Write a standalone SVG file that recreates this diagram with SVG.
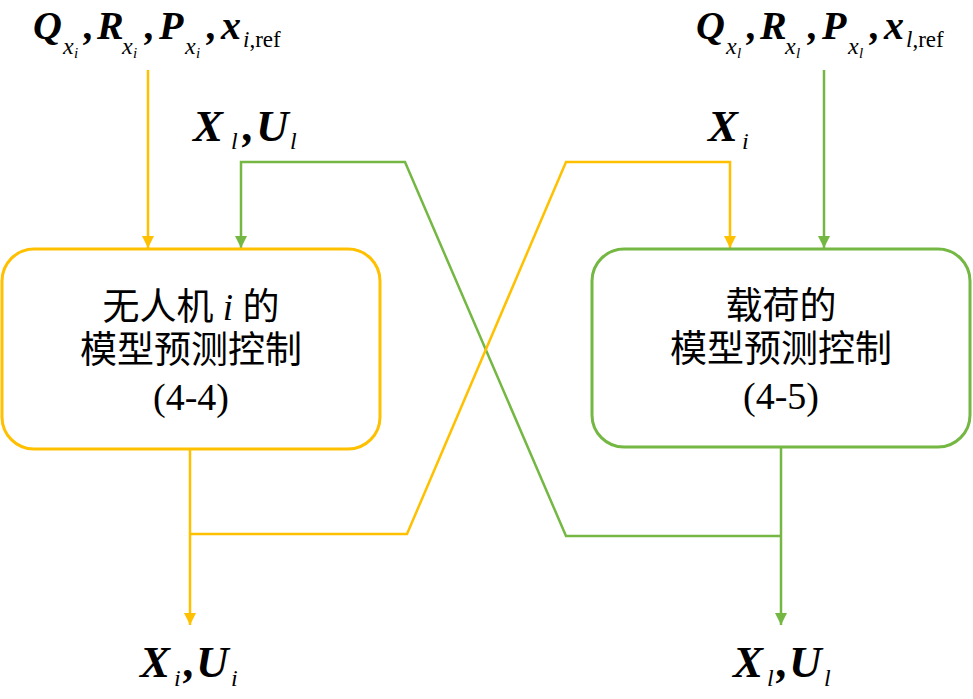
<svg xmlns="http://www.w3.org/2000/svg" width="973" height="699" viewBox="0 0 973 699">
<style>
.m{font-family:"Liberation Serif","Times New Roman",serif;font-weight:bold;font-style:italic;fill:#000}
.s{font-family:"Liberation Serif","Times New Roman",serif;font-weight:normal;font-style:italic}
.u{font-style:normal}
.cn{font-family:"Liberation Serif","Noto Sans CJK SC",serif;font-size:37px;fill:#000;text-anchor:middle}
.num{font-family:"Liberation Serif","Times New Roman",serif;font-size:38px;fill:#000;text-anchor:middle}
.y{stroke:#FFC000;stroke-width:2.5;fill:none}
.g{stroke:#74B843;stroke-width:2.5;fill:none}
</style>
<defs>
<marker id="ay" viewBox="0 0 12 12" markerWidth="12" markerHeight="12" refX="12" refY="6" orient="auto" markerUnits="userSpaceOnUse"><path d="M0,0L12,6L0,12Z" fill="#FFC000"/></marker>
<marker id="ag" viewBox="0 0 12 12" markerWidth="12" markerHeight="12" refX="12" refY="6" orient="auto" markerUnits="userSpaceOnUse"><path d="M0,0L12,6L0,12Z" fill="#74B843"/></marker>
</defs>
<g id="connectors">
<path class="y" d="M148,70V248" marker-end="url(#ay)"/>
<path class="g" d="M824,70V248" marker-end="url(#ag)"/>
<path class="g" d="M781,536H566L405,162H241V248" marker-end="url(#ag)"/>
<path class="y" d="M190,534H407L566,162H730V248" marker-end="url(#ay)"/>
<path class="y" d="M190,449V625" marker-end="url(#ay)"/>
<path class="g" d="M781,447V625" marker-end="url(#ag)"/>
</g>
<g id="node-uav">
<rect x="2" y="249" width="378" height="200" rx="32" ry="32" fill="#fff" stroke="#FFC000" stroke-width="3"/>
<text class="cn" x="191" y="320">无人机 <tspan font-family="Liberation Serif" font-style="italic">i</tspan> 的</text>
<text class="cn" x="191" y="363">模型预测控制</text>
<text class="num" x="191" y="410">(4-4)</text>
</g>
<g id="node-load">
<rect x="592" y="249" width="378" height="198" rx="32" ry="32" fill="#fff" stroke="#74B843" stroke-width="3"/>
<text class="cn" x="781" y="319">载荷的</text>
<text class="cn" x="781" y="362">模型预测控制</text>
<text class="num" x="781" y="409">(4-5)</text>
</g>
<g id="label-top-left">
<text class="m" font-size="40"><tspan x="33" y="39">Q</tspan><tspan class="s" font-size="24" x="63" y="54">x</tspan><tspan class="s" font-size="15" x="74" y="58">i</tspan><tspan x="84" y="39">,</tspan><tspan x="97" y="39">R</tspan><tspan class="s" font-size="24" x="122" y="54">x</tspan><tspan class="s" font-size="15" x="133" y="58">i</tspan><tspan x="145" y="39">,</tspan><tspan x="159" y="39">P</tspan><tspan class="s" font-size="24" x="185" y="54">x</tspan><tspan class="s" font-size="15" x="196" y="58">i</tspan><tspan x="207" y="39">,</tspan><tspan x="221" y="39">x</tspan><tspan class="s" font-size="23" x="243" y="47">i<tspan class="u">,ref</tspan></tspan></text>
</g>
<g id="label-top-right">
<text class="m" font-size="40"><tspan x="696" y="39">Q</tspan><tspan class="s" font-size="24" x="726" y="54">x</tspan><tspan class="s" font-size="15" x="737" y="58">l</tspan><tspan x="747" y="39">,</tspan><tspan x="760" y="39">R</tspan><tspan class="s" font-size="24" x="785" y="54">x</tspan><tspan class="s" font-size="15" x="796" y="58">l</tspan><tspan x="808" y="39">,</tspan><tspan x="822" y="39">P</tspan><tspan class="s" font-size="24" x="848" y="54">x</tspan><tspan class="s" font-size="15" x="859" y="58">l</tspan><tspan x="870" y="39">,</tspan><tspan x="884" y="39">x</tspan><tspan class="s" font-size="23" x="906" y="47">l<tspan class="u">,ref</tspan></tspan></text>
</g>
<g id="label-XlUl-top">
<text class="m" font-size="45"><tspan x="193" y="141">X</tspan><tspan class="s" font-size="24" x="231" y="149">l</tspan><tspan x="243" y="141">,</tspan><tspan x="256" y="141">U</tspan><tspan class="s" font-size="24" x="290" y="149">l</tspan></text>
</g>
<g id="label-Xi-top">
<text class="m" font-size="45"><tspan x="708" y="141">X</tspan><tspan class="s" font-size="24" x="742" y="149">i</tspan></text>
</g>
<g id="label-XiUi-bottom">
<text class="m" font-size="45"><tspan x="140" y="677">X</tspan><tspan class="s" font-size="24" x="174" y="686">i</tspan><tspan x="184" y="677">,</tspan><tspan x="196" y="677">U</tspan><tspan class="s" font-size="24" x="231" y="686">i</tspan></text>
</g>
<g id="label-XlUl-bottom">
<text class="m" font-size="45"><tspan x="733" y="677">X</tspan><tspan class="s" font-size="24" x="767" y="686">l</tspan><tspan x="777" y="677">,</tspan><tspan x="789" y="677">U</tspan><tspan class="s" font-size="24" x="824" y="686">l</tspan></text>
</g>
</svg>
